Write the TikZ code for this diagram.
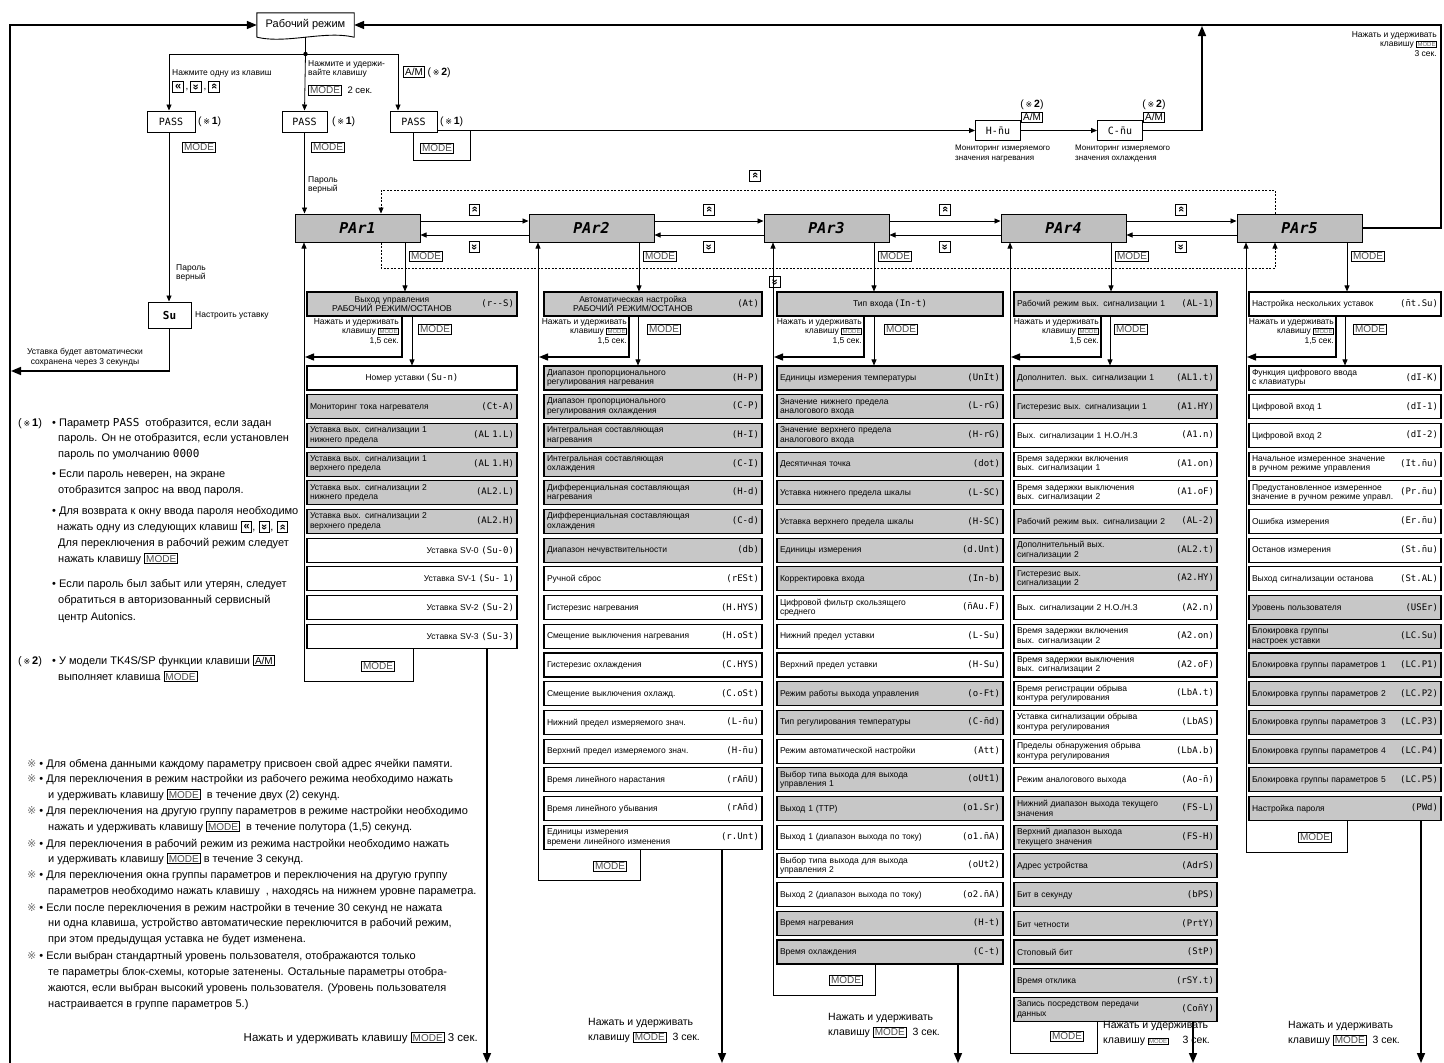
\documentclass[tikz,border=0pt]{standalone}
\usepackage{fontspec}
\setmainfont{Liberation Sans}
\newfontfamily\segfont{DejaVu Sans Mono}
\newfontfamily\markfont{DejaVu Sans}
\usepackage{graphicx}
\usetikzlibrary{arrows.meta}

% keys of the front panel
\newcommand{\keyicon}[1]{{\setlength{\fboxsep}{0.4pt}\setlength{\fboxrule}{1pt}\fbox{\parbox[c][9pt][c]{9pt}{\centering\fontsize{11}{11}\selectfont\bfseries #1}}}}
\newcommand{\keyleft}{\keyicon{«}}
\newcommand{\keyup}{\keyicon{\rotatebox[origin=c]{-90}{«}}}
\newcommand{\keydown}{\keyicon{\rotatebox[origin=c]{90}{«}}}
\newcommand{\modekey}{{\setlength{\fboxsep}{1.3pt}\setlength{\fboxrule}{0.6pt}\fbox{\fontsize{10}{10}\selectfont\color{black!70}MODE}}}
\newcommand{\modetiny}{{\setlength{\fboxsep}{0.8pt}\setlength{\fboxrule}{0.5pt}\fbox{\fontsize{6}{6}\selectfont\color{black!60}MODE}}}
\newcommand{\amkey}{{\setlength{\fboxsep}{1.3pt}\setlength{\fboxrule}{0.6pt}\fbox{\fontsize{10}{10}\selectfont A/M}}}
\newcommand{\rmark}[1]{(\,{\markfont\fontsize{8}{8}\selectfont ※}\,\textbf{#1})}
% parameter box layouts
\newcommand{\segcode}[1]{{\segfont\fontsize{9}{9}\selectfont(#1)}}
\newcommand{\prml}[2]{\noindent\parbox[c]{\dimexpr\hsize-42pt\relax}{\raggedright #1}\hfill\segcode{#2}}
\newcommand{\prmc}[2]{\noindent\hfill #1\,\segcode{#2}\hfill\null}
\newcommand{\prmr}[2]{\noindent\hfill #1 \segcode{#2}\hspace*{24pt}}

\begin{document}
\begin{tikzpicture}[x=1pt,y=-1pt,
    flow/.style={line width=0.8pt,-{Triangle[length=6pt,width=5pt]}},
    bigflow/.style={line width=1.6pt,-{Triangle[length=10pt,width=8pt]}},
    midflow/.style={line width=1.3pt,-{Triangle[length=9pt,width=7pt]}},
    rim/.style={line width=0.6pt,-{Triangle[length=6pt,width=5pt]}},
    grp/.style={draw,line width=1pt,fill=black!25,minimum width=125pt,minimum height=28pt,font=\segfont\bfseries\itshape\fontsize{15}{15}\selectfont},
    prm/.style={draw,line width=1.1pt,minimum height=24pt,inner xsep=3pt,inner ysep=1pt,font=\fontsize{8.5}{9.5}\selectfont},
    disp/.style={draw,line width=1pt,minimum height=21pt,font=\segfont\fontsize{10}{10}\selectfont},
    lbl/.style={inner sep=0pt,font=\fontsize{8.5}{9.5}\selectfont},
    hint/.style={inner sep=0pt,font=\fontsize{10.5}{15}\selectfont},
    txt/.style={inner sep=0pt,anchor=base west,font=\fontsize{11}{13}\selectfont}]

\useasboundingbox (0,0) rectangle (1444,1063);

% operation mode
\node[minimum width=97pt,minimum height=24pt,font=\fontsize{11}{11}\selectfont] (work) at (305.5,25) {Рабочий режим};
\draw[line width=0.9pt] (work.south west) -- (work.north west) -- (work.north east) -- (work.south east)
    .. controls ([xshift=-30pt,yshift=7pt]work.south east) and ([xshift=30pt,yshift=-7pt]work.south west) .. (work.south west);
\draw[bigflow] (10,1063) -- (10,25) -- (work.west);
\node[lbl,anchor=north east,align=right] (back) at (1437,31) {Нажать и удерживать\\клавишу \modetiny\\3 сек.};

% password branches
\coordinate (jn) at (305.5,54);
\draw[line width=0.9pt] (work.south) -- (jn);
\fill (jn) circle (2.2pt);
\draw[line width=0.9pt] (169,54) -- (398,54);

\node[disp,minimum width=48pt] (pass1) at (171,121.5) {PASS};
\node[disp,minimum width=45pt] (pass2) at (304.5,121.5) {PASS};
\node[disp,minimum width=47pt] (pass3) at (413.5,121.5) {PASS};
\node[hint,anchor=west] (m1) at (198,121.5) {\rmark{1}};
\node[hint,anchor=west] (m2) at (332,121.5) {\rmark{1}};
\node[hint,anchor=west] (m3) at (440,121.5) {\rmark{1}};
\node[inner sep=0pt] (pm1) at (199,147) {\modekey};
\node[inner sep=0pt] (pm2) at (328,147) {\modekey};
\node[inner sep=0pt] (pm3) at (437,148) {\modekey};

\draw[flow] (169,54) -- (pass1.north -| 169,0);
\draw[flow] (jn) -- (pass2.north);
\draw[flow] (398,54) -- (pass3.north -| 398,0);
\node[lbl,anchor=base west] (hint1) at (172,75) {Нажмите одну из клавиш};
\node[inner sep=0pt,anchor=west] (hint1k) at (172,87) {\keyleft\,,\,\keydown\,,\,\keyup};
\node[lbl,anchor=north west,align=left] (hint2) at (308,60) {Нажмите и удержи-\\вайте клавишу};
\node[inner sep=0pt,anchor=west] (hint2k) at (308,90) {\modekey\ \ {\fontsize{9.5}{9.5}\selectfont 2 сек.}};
\node[hint,anchor=west] (hint3) at (403,72) {\amkey\ \rmark{2}};

% setpoint
\node[disp,minimum width=43pt,minimum height=26pt,font=\segfont\bfseries\fontsize{11}{11}\selectfont] (su) at (169.5,315) {Su};
\draw[flow] (pass1.south -| 169,0) -- (su.north -| 169,0);
\node[lbl,anchor=north west,align=left] (ok1) at (176,264) {Пароль\\верный};
\node[lbl,anchor=west] (sulbl) at (195,315) {Настроить уставку};
\draw[bigflow] (su.south) |- (11,371);
\node[lbl,align=center,anchor=south] (save) at (85,366) {Уставка будет автоматически\\сохранена через 3 секунды};

\node[lbl,anchor=north west,align=left] (ok2) at (308,176) {Пароль\\верный};

% monitoring
\node[disp,minimum width=45pt,minimum height=20pt] (hmu) at (998,130.5) {H-\=nu};
\node[disp,minimum width=45pt,minimum height=20pt] (cmu) at (1120,130.5) {C-\=nu};
\draw[line width=0.9pt] ([yshift=-9pt]pass3.east) -- (470,130.5) -- (470,160) -- (413,160) -- (pass3.south -| 413,0);
\draw[flow] (470,130.5) -- (hmu.west);
\draw[flow] (hmu.east) -- (cmu.west);
\draw[bigflow] (cmu.east) -| (1202,26);
\node[inner sep=0pt,anchor=south west] (am1) at ([yshift=-3pt]hmu.north east) {\amkey};
\node[hint,anchor=south] (am1m) at ([yshift=2pt]am1.north) {\rmark{2}};
\node[inner sep=0pt,anchor=south west] (am2) at ([yshift=-3pt]cmu.north east) {\amkey};
\node[hint,anchor=south] (am2m) at ([yshift=2pt]am2.north) {\rmark{2}};
\node[lbl,anchor=north west,align=left,font=\fontsize{8}{10}\selectfont] (hmul) at (955,145) {Мониторинг измеряемого\\значения нагревания};
\node[lbl,anchor=north west,align=left,font=\fontsize{8}{10}\selectfont] (cmul) at (1075,145) {Мониторинг измеряемого\\значения охлаждения};

% parameter groups
\foreach \n/\x in {1/357.5,2/591.5,3/826.5,4/1063.5,5/1299.5}
    \node[grp] (par\n) at (\x,228) {PAr\n};
\draw[flow] (pass2.south) -- (par1.north -| 304.5,0);
\draw[bigflow] (par5.east) -| (1441,25) -- (work.east);
\foreach \a/\b/\m in {1/2/474.5,2/3/709,3/4/945,4/5/1181} {
    \draw[flow] ([yshift=7pt]par\a.east) -- ([yshift=7pt]par\b.west);
    \draw[flow] ([yshift=-7pt]par\b.west) -- ([yshift=-7pt]par\a.east);
    \node[inner sep=0pt] (ku\a) at (\m,210) {\keyup};
    \node[inner sep=0pt] (kd\a) at (\m,247) {\keydown};
}
\draw[flow,dash pattern=on 2pt off 1.5pt,line width=0.7pt] (par5.north -| 1275,0) |- (381,190) -- (par1.north -| 381,0);
\draw[flow,dash pattern=on 2pt off 1.5pt,line width=0.7pt] (par1.south -| 381,0) |- (1275,268) -- (par5.south -| 1275,0);
\node[inner sep=0pt] (kdu) at (755,176) {\keyup};
\node[inner sep=0pt] (kdd) at (775,282) {\keydown};
\foreach \n/\x in {1/409,2/643,3/878,4/1115,5/1351}
    \node[inner sep=0pt,anchor=west] (rm\n) at (\x,256) {\modekey};

% group 1
\node[prm,fill=black!22,text width=204pt] (p1top) at (412,304) {\noindent\parbox[c]{\dimexpr\hsize-40pt\relax}{\centering Выход управления\\РАБОЧИЙ РЕЖИМ/ОСТАНОВ}\hfill\segcode{r-{}-S}};
\foreach \lay/\txt/\code/\fl [count=\i] in {
    c/Номер уставки/Su-n/white,
    l/Мониторинг тока нагревателя/Ct-A/black!22,
    l/{Уставка вых. сигнализации 1\\нижнего предела}/AL 1.L/black!22,
    l/{Уставка вых. сигнализации 1\\верхнего предела}/AL 1.H/black!22,
    l/{Уставка вых. сигнализации 2\\нижнего предела}/AL2.L/black!22,
    l/{Уставка вых. сигнализации 2\\верхнего предела}/AL2.H/black!22,
    r/Уставка SV-0/Su-0/white,
    r/Уставка SV-1/Su- 1/white,
    r/Уставка SV-2/Su-2/white,
    r/Уставка SV-3/Su-3/white}
    \node[prm,fill=\fl,text width=204pt] (p1n\i) at (412,{378+28.7*(\i-1)}) {\csname prm\lay\endcsname{\txt}{\code}};
\draw[flow] (par1.south -| 405,0) -- (p1top.north -| 405,0);
\draw[midflow] (p1top.south -| 402,0) |- (305,357);
\draw[flow] (p1top.south -| 412,0) -- (p1n1.north -| 412,0);
\node[inner sep=0pt,anchor=west] (p1k) at (418,329) {\modekey};
\node[lbl,anchor=north east,align=right] (p1h) at (399,318) {Нажать и удерживать\\клавишу \modetiny\\1,5 сек.};
\draw[rim] (p1n10.south -| 413,0) -- (413,681) -- (304,681) -- (par1.south -| 304,0);
\node[inner sep=0pt] (p1m) at (378,666) {\modekey};
\draw[bigflow] (p1n10.south -| 487,0) -- (487,1063);
\node[hint,anchor=base east,font=\fontsize{11.5}{15}\selectfont] (p1q) at (478,1041) {Нажать и удерживать клавишу \modekey\ 3 сек.};

% group 2
\node[prm,fill=black!22,text width=212pt] (p2top) at (653,304) {\noindent\parbox[c]{\dimexpr\hsize-40pt\relax}{\centering Автоматическая настройка\\РАБОЧИЙ РЕЖИМ/ОСТАНОВ}\hfill\segcode{At}};
\foreach \lay/\txt/\code/\fl [count=\i] in {
    l/{Диапазон пропорционального\\регулирования нагревания}/H-P/black!22,
    l/{Диапазон пропорционального\\регулирования охлаждения}/C-P/black!22,
    l/{Интегральная составляющая\\нагревания}/H-I/black!22,
    l/{Интегральная составляющая\\охлаждения}/C-I/black!22,
    l/{Дифференциальная составляющая\\нагревания}/H-d/black!22,
    l/{Дифференциальная составляющая\\охлаждения}/C-d/black!22,
    l/Диапазон нечувствительности/db/black!22,
    l/Ручной сброс/rESt/white,
    l/Гистерезис нагревания/H.HYS/white,
    l/Смещение выключения нагревания/H.oSt/white,
    l/Гистерезис охлаждения/C.HYS/white,
    l/Смещение выключения охлажд./C.oSt/white,
    l/Нижний предел измеряемого знач./L-\=nu/white,
    l/Верхний предел измеряемого знач./H-\=nu/white,
    l/Время линейного нарастания/rA\=nU/white,
    l/Время линейного убывания/rA\=nd/white,
    l/{Единицы измерения\\времени линейного изменения}/r.Unt/white}
    \node[prm,fill=\fl,text width=212pt] (p2n\i) at (653,{378+28.7*(\i-1)}) {\csname prm\lay\endcsname{\txt}{\code}};
\draw[flow] (par2.south -| 639,0) -- (p2top.north -| 639,0);
\draw[midflow] (p2top.south -| 629,0) |- (539,357);
\draw[flow] (p2top.south -| 638,0) -- (p2n1.north -| 638,0);
\node[inner sep=0pt,anchor=west] (p2k) at (647,329) {\modekey};
\node[lbl,anchor=north east,align=right] (p2h) at (627,318) {Нажать и удерживать\\клавишу \modetiny\\1,5 сек.};
\draw[rim] (p2n17.south -| 640,0) -- (640,880) -- (538,880) -- (par2.south -| 538,0);
\node[inner sep=0pt] (p2m) at (610,866) {\modekey};
\draw[bigflow] (p2n17.south -| 722,0) -- (722,1063);
\node[hint,anchor=north west,align=left] (p2q) at (588,1018) {Нажать и удерживать\\клавишу \modekey\ \ 3 сек.};

% group 3
\node[prm,fill=black!22,text width=220pt] (p3top) at (890,304) {\prmc{Тип входа}{In-t}};
\foreach \lay/\txt/\code/\fl [count=\i] in {
    l/Единицы измерения температуры/UnIt/black!22,
    l/{Значение нижнего предела\\аналогового входа}/L-rG/black!22,
    l/{Значение верхнего предела\\аналогового входа}/H-rG/black!22,
    l/Десятичная точка/dot/black!22,
    l/Уставка нижнего предела шкалы/L-SC/black!22,
    l/Уставка верхнего предела шкалы/H-SC/black!22,
    l/Единицы измерения/d.Unt/black!22,
    l/Корректировка входа/In-b/black!22,
    l/{Цифровой фильтр скользящего\\среднего}/\=nAu.F/white,
    l/Нижний предел уставки/L-Su/white,
    l/Верхний предел уставки/H-Su/white,
    l/Режим работы выхода управления/o-Ft/black!22,
    l/Тип регулирования температуры/C-\=nd/black!22,
    l/Режим автоматической настройки/Att/white,
    l/{Выбор типа выхода для выхода\\управления 1}/oUt1/black!22,
    l/Выход 1 (ТТР)/o1.Sr/black!22,
    l/Выход 1 (диапазон выхода по току)/o1.\=nA/white,
    l/{Выбор типа выхода для выхода\\управления 2}/oUt2/white,
    l/Выход 2 (диапазон выхода по току)/o2.\=nA/white,
    l/Время нагревания/H-t/black!22,
    l/Время охлаждения/C-t/black!22}
    \node[prm,fill=\fl,text width=220pt] (p3n\i) at (890,{378+28.7*(\i-1)}) {\csname prm\lay\endcsname{\txt}{\code}};
\draw[flow] (par3.south -| 874,0) -- (p3top.north -| 874,0);
\draw[midflow] (p3top.south -| 864,0) |- (774,357);
\draw[flow] (p3top.south -| 874,0) -- (p3n1.north -| 874,0);
\node[inner sep=0pt,anchor=west] (p3k) at (884,329) {\modekey};
\node[lbl,anchor=north east,align=right] (p3h) at (862,318) {Нажать и удерживать\\клавишу \modetiny\\1,5 сек.};
\draw[rim] (p3n21.south -| 875,0) -- (875,995) -- (773,995) -- (par3.south -| 773,0);
\node[inner sep=0pt] (p3m) at (846,980) {\modekey};
\draw[bigflow] (p3n21.south -| 958,0) -- (958,1063);
\node[hint,anchor=north west,align=left] (p3q) at (828,1013) {Нажать и удерживать\\клавишу \modekey\ \ 3 сек.};

% group 4
\node[prm,fill=black!22,text width=197pt] (p4top) at (1115.5,304) {\noindent Рабочий режим вых. сигнализации 1\hfill\segcode{AL-1}};
\foreach \lay/\txt/\code/\fl [count=\i] in {
    l/Дополнител. вых. сигнализации 1/AL1.t/black!22,
    l/Гистерезис вых. сигнализации 1/A1.HY/black!22,
    l/{Вых. сигнализации 1 Н.О./Н.З}/A1.n/white,
    l/{Время задержки включения\\вых. сигнализации 1}/A1.on/white,
    l/{Время задержки выключения\\вых. сигнализации 2}/A1.oF/white,
    l/Рабочий режим вых. сигнализации 2/AL-2/black!22,
    l/{Дополнительный вых.\\сигнализации 2}/AL2.t/black!22,
    l/{Гистерезис вых.\\сигнализации 2}/A2.HY/black!22,
    l/{Вых. сигнализации 2 Н.О./Н.З}/A2.n/white,
    l/{Время задержки включения\\вых. сигнализации 2}/A2.on/white,
    l/{Время задержки выключения\\вых. сигнализации 2}/A2.oF/white,
    l/{Время регистрации обрыва\\контура регулирования}/LbA.t/white,
    l/{Уставка сигнализации обрыва\\контура регулирования}/LbAS/white,
    l/{Пределы обнаружения обрыва\\контура регулирования}/LbA.b/white,
    l/Режим аналогового выхода/Ao-\=n/white,
    l/{Нижний диапазон выхода текущего\\значения}/FS-L/black!22,
    l/{Верхний диапазон выхода\\текущего значения}/FS-H/black!22,
    l/Адрес устройства/AdrS/black!22,
    l/Бит в секунду/bPS/black!22,
    l/Бит четности/PrtY/black!22,
    l/Стоповый бит/StP/black!22,
    l/Время отклика/rSY.t/black!22,
    l/{Запись посредством передачи\\данных}/Co\=nY/black!22}
    \node[prm,fill=\fl,text width=197pt] (p4n\i) at (1115.5,{378+28.7*(\i-1)}) {\csname prm\lay\endcsname{\txt}{\code}};
\draw[flow] (par4.south -| 1111,0) -- (p4top.north -| 1111,0);
\draw[midflow] (p4top.south -| 1101,0) |- (1011,357);
\draw[flow] (p4top.south -| 1110,0) -- (p4n1.north -| 1110,0);
\node[inner sep=0pt,anchor=west] (p4k) at (1114,329) {\modekey};
\node[lbl,anchor=north east,align=right] (p4h) at (1099,318) {Нажать и удерживать\\клавишу \modetiny\\1,5 сек.};
\draw[rim] (p4n23.south -| 1097,0) -- (1097,1053) -- (1010,1053) -- (par4.south -| 1010,0);
\node[inner sep=0pt] (p4m) at (1067,1036) {\modekey};
\draw[bigflow] (p4n23.south -| 1193,0) -- (1193,1063);
\node[hint,anchor=north west,align=left] (p4q) at (1103,1021) {Нажать и удерживать\\клавишу \modetiny\hspace{14pt}3 сек.};

% group 5
\node[prm,fill=white,text width=186pt] (p5top) at (1345,304) {\prml{Настройка нескольких уставок}{\=nt.Su}};
\foreach \lay/\txt/\code/\fl [count=\i] in {
    l/{Функция цифрового ввода\\с клавиатуры}/dI-K/white,
    l/Цифровой вход 1/dI-1/white,
    l/Цифровой вход 2/dI-2/white,
    l/{Начальное измеренное значение\\в ручном режиме управления}/It.\=nu/white,
    l/{Предустановленное измеренное\\значение в ручном режиме управл.}/Pr.\=nu/white,
    l/Ошибка измерения/Er.\=nu/white,
    l/Останов измерения/St.\=nu/white,
    l/Выход сигнализации останова/St.AL/white,
    l/Уровень пользователя/USEr/black!22,
    l/{Блокировка группы\\настроек уставки}/LC.Su/black!22,
    l/Блокировка группы параметров 1/LC.P1/black!22,
    l/Блокировка группы параметров 2/LC.P2/black!22,
    l/Блокировка группы параметров 3/LC.P3/black!22,
    l/Блокировка группы параметров 4/LC.P4/black!22,
    l/Блокировка группы параметров 5/LC.P5/black!22,
    l/Настройка пароля/PWd/black!22}
    \node[prm,fill=\fl,text width=186pt] (p5n\i) at (1345,{378+28.7*(\i-1)}) {\csname prm\lay\endcsname{\txt}{\code}};
\draw[flow] (par5.south -| 1347,0) -- (p5top.north -| 1347,0);
\draw[midflow] (p5top.south -| 1336,0) |- (1247,357);
\draw[flow] (p5top.south -| 1345,0) -- (p5n1.north -| 1345,0);
\node[inner sep=0pt,anchor=west] (p5k) at (1353,329) {\modekey};
\node[lbl,anchor=north east,align=right] (p5h) at (1334,318) {Нажать и удерживать\\клавишу \modetiny\\1,5 сек.};
\draw[rim] (p5n16.south -| 1347,0) -- (1347,852) -- (1246,852) -- (par5.south -| 1246,0);
\node[inner sep=0pt] (p5m) at (1315,837) {\modekey};
\draw[bigflow] (p5n16.south -| 1421,0) -- (1421,1063);
\node[hint,anchor=north west,align=left] (p5q) at (1288,1021) {Нажать и удерживать\\клавишу \modekey\ \ 3 сек.};

% notes on the password
\node[txt] (a0) at (18,426) {\rmark{1}};
\node[txt] (a1) at (52,426) {• Параметр {\segfont PASS}\ \ отобразится, если задан};
\node[txt] (a2) at (58,441) {пароль. Он не отобразится, если установлен};
\node[txt] (a3) at (58,457) {пароль по умолчанию {\segfont 0000}};
\node[txt] (a4) at (52,477) {• Если пароль неверен, на экране};
\node[txt] (a5) at (58,493) {отобразится запрос на ввод пароля.};
\node[txt] (a6) at (52,514) {• Для возврата к окну ввода пароля необходимо};
\node[txt] (a7) at (57,530) {нажать одну из следующих клавиш \keyleft, \keydown, \keyup};
\node[txt] (a8) at (58,546) {Для переключения в рабочий режим следует};
\node[txt] (a9) at (58,562) {нажать клавишу \modekey};
\node[txt] (a10) at (52,587) {• Если пароль был забыт или утерян, следует};
\node[txt] (a11) at (58,603) {обратиться в авторизованный сервисный};
\node[txt] (a12) at (58,620) {центр Autonics.};
\node[txt] (a13) at (18,664) {\rmark{2}};
\node[txt] (a14) at (52,664) {• У модели TK4S/SP функции клавиши \amkey};
\node[txt] (a15) at (58,680) {выполняет клавиша \modekey};

% general notes
\node[txt] (b1) at (27,767) {{\color{black!55}\markfont ※} • Для обмена данными каждому параметру присвоен свой адрес ячейки памяти.};
\node[txt] (b2) at (27,782) {{\color{black!55}\markfont ※} • Для переключения в режим настройки из рабочего режима необходимо нажать};
\node[txt] (b3) at (48,798) {и удерживать клавишу \modekey\ \ в течение двух (2) секунд.};
\node[txt] (b4) at (27,814) {{\color{black!55}\markfont ※} • Для переключения на другую группу параметров в режиме настройки необходимо};
\node[txt] (b5) at (48,830) {нажать и удерживать клавишу \modekey\ \ в течение полутора (1,5) секунд.};
\node[txt] (b6) at (27,847) {{\color{black!55}\markfont ※} • Для переключения в рабочий режим из режима настройки необходимо нажать};
\node[txt] (b7) at (48,862) {и удерживать клавишу \modekey\ в течение 3 секунд.};
\node[txt] (b8) at (27,878) {{\color{black!55}\markfont ※} • Для переключения окна группы параметров и переключения на другую группу};
\node[txt] (b9) at (48,894) {параметров необходимо нажать клавишу\ \ , находясь на нижнем уровне параметра.};
\node[txt] (b10) at (27,911) {{\color{black!55}\markfont ※} • Если после переключения в режим настройки в течение 30 секунд не нажата};
\node[txt] (b11) at (48,926) {ни одна клавиша, устройство автоматические переключится в рабочий режим,};
\node[txt] (b12) at (48,942) {при этом предыдущая уставка не будет изменена.};
\node[txt] (b13) at (27,959) {{\color{black!55}\markfont ※} • Если выбран стандартный уровень пользователя, отображаются только};
\node[txt] (b14) at (48,975) {те параметры блок-схемы, которые затенены. Остальные параметры отобра-};
\node[txt] (b15) at (48,991) {жаются, если выбран высокий уровень пользователя. (Уровень пользователя};
\node[txt] (b16) at (48,1007) {настраивается в группе параметров 5.)};

\end{tikzpicture}
\end{document}
